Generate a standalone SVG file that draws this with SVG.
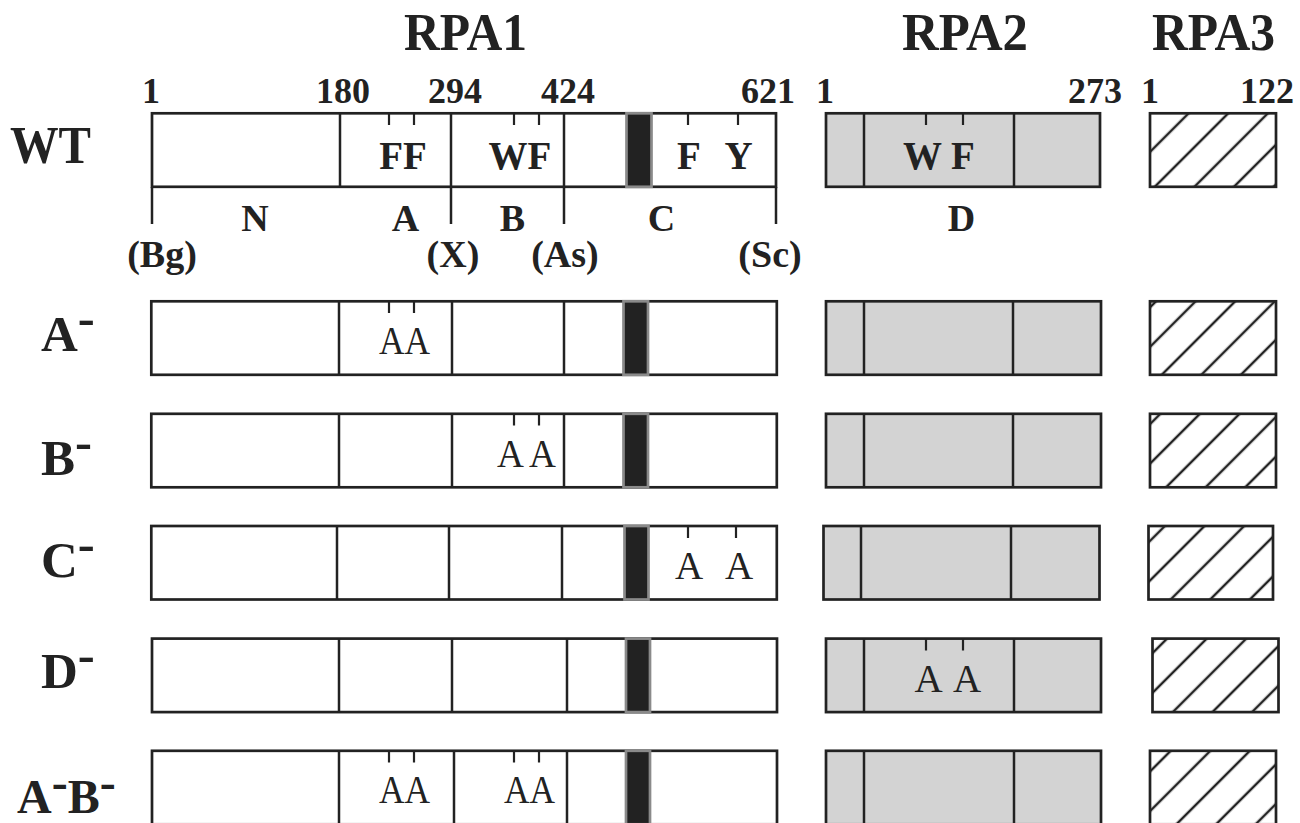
<svg xmlns="http://www.w3.org/2000/svg" width="1300" height="823" viewBox="0 0 1300 823">
<style>
  .bx { fill: #ffffff; stroke: #222222; stroke-width: 2.7; }
  .g2 { fill: #d3d3d3; stroke: #222222; stroke-width: 2.7; }
  .dv { stroke: #222222; stroke-width: 2.5; fill: none; }
  .tk { stroke: #222222; stroke-width: 2.2; fill: none; }
  .bar { fill: #222222; stroke: #8a8a8a; stroke-width: 2.7; }
  text { font-family: "Liberation Serif", "Times New Roman", serif; fill: #222222; }
  .title { font-size: 52px; font-weight: bold; }
  .num { font-size: 36px; font-weight: bold; text-anchor: middle; }
  .row { font-size: 51px; font-weight: bold; }
  .lbl { font-size: 38px; font-weight: bold; text-anchor: middle; }
  .res { font-size: 39px; font-weight: bold; text-anchor: middle; }
  .mut { font-size: 39px; font-weight: normal; text-anchor: middle; }
</style>
<defs>
  <pattern id="h0" patternUnits="userSpaceOnUse" width="28" height="28" patternTransform="rotate(45) translate(10.61,0)"><line x1="14" y1="-1" x2="14" y2="29" stroke="#222222" stroke-width="2.5"/></pattern>
  <pattern id="h1" patternUnits="userSpaceOnUse" width="28" height="28" patternTransform="rotate(45) translate(8.49,0)"><line x1="14" y1="-1" x2="14" y2="29" stroke="#222222" stroke-width="2.5"/></pattern>
  <pattern id="h2" patternUnits="userSpaceOnUse" width="28" height="28" patternTransform="rotate(45) translate(7.07,0)"><line x1="14" y1="-1" x2="14" y2="29" stroke="#222222" stroke-width="2.5"/></pattern>
  <pattern id="h3" patternUnits="userSpaceOnUse" width="28" height="28" patternTransform="rotate(45) translate(5.66,0)"><line x1="14" y1="-1" x2="14" y2="29" stroke="#222222" stroke-width="2.5"/></pattern>
  <pattern id="h4" patternUnits="userSpaceOnUse" width="28" height="28" patternTransform="rotate(45) translate(2.83,0)"><line x1="14" y1="-1" x2="14" y2="29" stroke="#222222" stroke-width="2.5"/></pattern>
  <pattern id="h5" patternUnits="userSpaceOnUse" width="28" height="28" patternTransform="rotate(45) translate(0.71,0)"><line x1="14" y1="-1" x2="14" y2="29" stroke="#222222" stroke-width="2.5"/></pattern>
</defs>
<rect x="0" y="0" width="1300" height="823" fill="#ffffff"/>

<g id="headers">
  <text class="title" x="404" y="50" textLength="123" lengthAdjust="spacingAndGlyphs">RPA1</text>
  <text class="title" x="902" y="50" textLength="126" lengthAdjust="spacingAndGlyphs">RPA2</text>
  <text class="title" x="1152" y="50" textLength="123" lengthAdjust="spacingAndGlyphs">RPA3</text>
  <text class="num" x="151" y="103">1</text>
  <text class="num" x="343" y="103">180</text>
  <text class="num" x="455" y="103">294</text>
  <text class="num" x="568" y="103">424</text>
  <text class="num" x="768" y="103">621</text>
  <text class="num" x="825" y="103">1</text>
  <text class="num" x="1095" y="103">273</text>
  <text class="num" x="1150" y="103">1</text>
  <text class="num" x="1267" y="103">122</text>
</g>

<g id="row-labels">
  <text class="row" x="10" y="163" style="font-size:53px" textLength="81" lengthAdjust="spacingAndGlyphs">WT</text>
  <text class="row" x="41" y="351">A<tspan dy="-16">-</tspan></text>
  <text class="row" x="41" y="475">B<tspan dy="-16">-</tspan></text>
  <text class="row" x="41" y="577">C<tspan dy="-16">-</tspan></text>
  <text class="row" x="41" y="688">D<tspan dy="-16">-</tspan></text>
  <text class="row" x="17" y="813" style="font-size:48px">A<tspan dy="-15">-</tspan><tspan dy="15">B</tspan><tspan dy="-15">-</tspan></text>
</g>

<!-- WT row -->
<g id="wt-rpa1">
  <rect class="bx" x="152" y="113.3" width="624" height="73.5"/>
  <line class="dv" x1="340" y1="113" x2="340" y2="187"/>
  <line class="dv" x1="451" y1="113" x2="451" y2="187"/>
  <line class="dv" x1="564" y1="113" x2="564" y2="187"/>
  <line class="tk" x1="389" y1="113" x2="389" y2="125"/>
  <line class="tk" x1="414" y1="113" x2="414" y2="125"/>
  <line class="tk" x1="514" y1="113" x2="514" y2="125"/>
  <line class="tk" x1="539" y1="113" x2="539" y2="125"/>
  <line class="tk" x1="688" y1="113" x2="688" y2="125"/>
  <line class="tk" x1="738" y1="113" x2="738" y2="125"/>
  <rect class="bar" x="626.5" y="113.3" width="25" height="73.5"/>
  <text class="res" x="403" y="169">FF</text>
  <text class="res" x="520" y="169">WF</text>
  <text class="res" x="689" y="169">F</text>
  <text class="res" x="738.5" y="169">Y</text>
</g>
<g id="wt-rpa2">
  <rect class="g2" x="826" y="113.3" width="274" height="73.5"/>
  <line class="dv" x1="864" y1="113" x2="864" y2="187"/>
  <line class="dv" x1="1014" y1="113" x2="1014" y2="187"/>
  <line class="tk" x1="926" y1="113" x2="926" y2="125"/>
  <line class="tk" x1="963" y1="113" x2="963" y2="125"/>
  <text class="res" x="939" y="169">W F</text>
</g>
<g id="wt-rpa3">
  <rect x="1150" y="113.3" width="126" height="73.5" fill="url(#h0)" stroke="#222222" stroke-width="2.7"/>
</g>

<g id="connectors">
  <line class="dv" x1="152" y1="187" x2="152" y2="224"/>
  <line class="dv" x1="451" y1="187" x2="451" y2="224"/>
  <line class="dv" x1="564" y1="187" x2="564" y2="224"/>
  <line class="dv" x1="776" y1="187" x2="776" y2="224"/>
</g>

<g id="domain-labels">
  <text class="lbl" x="255" y="231">N</text>
  <text class="lbl" x="405.5" y="231">A</text>
  <text class="lbl" x="512.5" y="231">B</text>
  <text class="lbl" x="661.5" y="231">C</text>
  <text class="lbl" x="961.5" y="231">D</text>
  <text class="lbl" x="162" y="267">(Bg)</text>
  <text class="lbl" x="453" y="267">(X)</text>
  <text class="lbl" x="565" y="267">(As)</text>
  <text class="lbl" x="770" y="267">(Sc)</text>
</g>

<!-- A- row -->
<g id="a-rpa1">
  <rect class="bx" x="151.3" y="301.3" width="625.5" height="73.5"/>
  <line class="dv" x1="339" y1="301" x2="339" y2="375"/>
  <line class="dv" x1="452" y1="301" x2="452" y2="375"/>
  <line class="dv" x1="564" y1="301" x2="564" y2="375"/>
  <line class="tk" x1="389" y1="301" x2="389" y2="313"/>
  <line class="tk" x1="414" y1="301" x2="414" y2="313"/>
  <rect class="bar" x="623.5" y="301.3" width="24.5" height="73.5"/>
  <text class="mut" x="404.5" y="354" textLength="51" lengthAdjust="spacingAndGlyphs">AA</text>
</g>
<g id="a-rpa2">
  <rect class="g2" x="826" y="301.3" width="275" height="73.5"/>
  <line class="dv" x1="864" y1="301" x2="864" y2="375"/>
  <line class="dv" x1="1013" y1="301" x2="1013" y2="375"/>
</g>
<g id="a-rpa3">
  <rect x="1150" y="301.3" width="126" height="73.5" fill="url(#h1)" stroke="#222222" stroke-width="2.7"/>
</g>

<!-- B- row -->
<g id="b-rpa1">
  <rect class="bx" x="151.3" y="413.8" width="625.5" height="73.5"/>
  <line class="dv" x1="339" y1="413.5" x2="339" y2="487.5"/>
  <line class="dv" x1="452" y1="413.5" x2="452" y2="487.5"/>
  <line class="dv" x1="564" y1="413.5" x2="564" y2="487.5"/>
  <line class="tk" x1="514" y1="413.5" x2="514" y2="425.5"/>
  <line class="tk" x1="539" y1="413.5" x2="539" y2="425.5"/>
  <rect class="bar" x="623.5" y="413.8" width="24.5" height="73.5"/>
  <text class="mut" x="526.5" y="467" textLength="59" lengthAdjust="spacingAndGlyphs">A A</text>
</g>
<g id="b-rpa2">
  <rect class="g2" x="826" y="413.8" width="275" height="73.5"/>
  <line class="dv" x1="864" y1="413.5" x2="864" y2="487.5"/>
  <line class="dv" x1="1013" y1="413.5" x2="1013" y2="487.5"/>
</g>
<g id="b-rpa3">
  <rect x="1150" y="413.8" width="126" height="73.5" fill="url(#h2)" stroke="#222222" stroke-width="2.7"/>
</g>

<!-- C- row -->
<g id="c-rpa1">
  <rect class="bx" x="151.3" y="526" width="625.5" height="73.5"/>
  <line class="dv" x1="337" y1="526" x2="337" y2="600"/>
  <line class="dv" x1="449" y1="526" x2="449" y2="600"/>
  <line class="dv" x1="562" y1="526" x2="562" y2="600"/>
  <line class="tk" x1="688" y1="526" x2="688" y2="538"/>
  <line class="tk" x1="736" y1="526" x2="736" y2="538"/>
  <rect class="bar" x="624.5" y="526" width="24" height="73.5"/>
  <text class="mut" y="579"><tspan x="689">A</tspan><tspan x="739">A</tspan></text>
</g>
<g id="c-rpa2">
  <rect class="g2" x="823.5" y="526" width="276" height="73.5"/>
  <line class="dv" x1="861" y1="526" x2="861" y2="600"/>
  <line class="dv" x1="1011" y1="526" x2="1011" y2="600"/>
</g>
<g id="c-rpa3">
  <rect x="1148.5" y="526" width="124.5" height="73.5" fill="url(#h3)" stroke="#222222" stroke-width="2.7"/>
</g>

<!-- D- row -->
<g id="d-rpa1">
  <rect class="bx" x="152" y="638.6" width="625" height="73.5"/>
  <line class="dv" x1="339" y1="638.5" x2="339" y2="712.5"/>
  <line class="dv" x1="452" y1="638.5" x2="452" y2="712.5"/>
  <line class="dv" x1="567" y1="638.5" x2="567" y2="712.5"/>
  <rect class="bar" x="626" y="638.6" width="24" height="73.5"/>
</g>
<g id="d-rpa2">
  <rect class="g2" x="826" y="638.6" width="275" height="73.5"/>
  <line class="dv" x1="864" y1="638.5" x2="864" y2="712.5"/>
  <line class="dv" x1="1014" y1="638.5" x2="1014" y2="712.5"/>
  <line class="tk" x1="926" y1="638.5" x2="926" y2="650.5"/>
  <line class="tk" x1="963" y1="638.5" x2="963" y2="650.5"/>
  <text class="mut" y="692"><tspan x="928.5">A</tspan><tspan x="967">A</tspan></text>
</g>
<g id="d-rpa3">
  <rect x="1152.5" y="638.6" width="126" height="73.5" fill="url(#h4)" stroke="#222222" stroke-width="2.7"/>
</g>

<!-- A-B- row -->
<g id="ab-rpa1">
  <rect class="bx" x="152" y="750.8" width="625" height="73.5"/>
  <line class="dv" x1="339" y1="750.5" x2="339" y2="825"/>
  <line class="dv" x1="454" y1="750.5" x2="454" y2="825"/>
  <line class="dv" x1="567" y1="750.5" x2="567" y2="825"/>
  <line class="tk" x1="389" y1="750.5" x2="389" y2="762.5"/>
  <line class="tk" x1="414" y1="750.5" x2="414" y2="762.5"/>
  <line class="tk" x1="514" y1="750.5" x2="514" y2="762.5"/>
  <line class="tk" x1="539" y1="750.5" x2="539" y2="762.5"/>
  <rect class="bar" x="626" y="750.8" width="24" height="73.5"/>
  <text class="mut" x="404.5" y="803" textLength="51" lengthAdjust="spacingAndGlyphs">AA</text>
  <text class="mut" x="529.5" y="803" textLength="51" lengthAdjust="spacingAndGlyphs">AA</text>
</g>
<g id="ab-rpa2">
  <rect class="g2" x="826" y="750.8" width="275" height="73.5"/>
  <line class="dv" x1="864" y1="750.5" x2="864" y2="825"/>
  <line class="dv" x1="1014" y1="750.5" x2="1014" y2="825"/>
</g>
<g id="ab-rpa3">
  <rect x="1150" y="750.8" width="126" height="73.5" fill="url(#h5)" stroke="#222222" stroke-width="2.7"/>
</g>
</svg>
